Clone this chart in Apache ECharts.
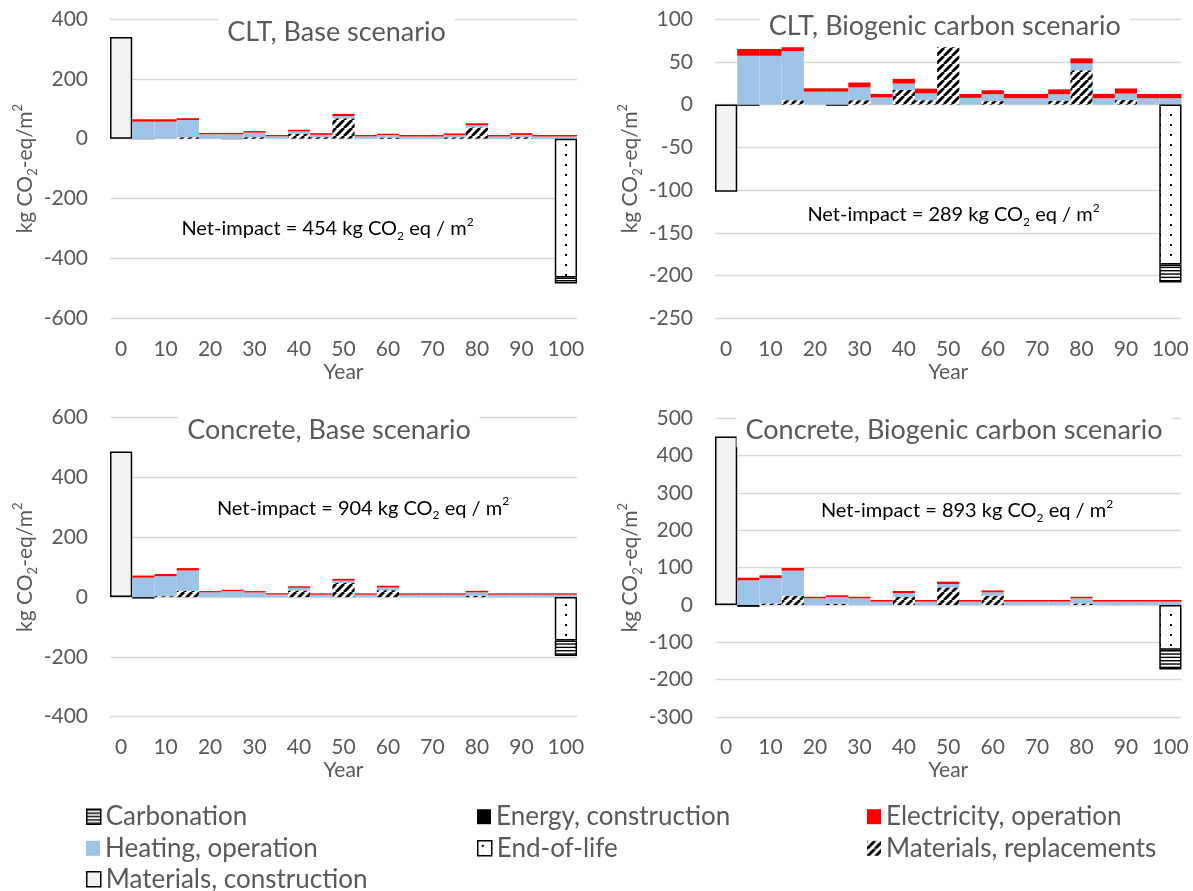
<!DOCTYPE html>
<html>
<head>
<meta charset="utf-8">
<script src="https://cdn.jsdelivr.net/npm/echarts@6/dist/echarts.min.js"></script>
<style>
html,body{margin:0;padding:0;background:#fff;}
#c{width:1193px;height:891px;}
</style>
</head>
<body>
<div id="c"></div>
<script>
// ---------------- DATA ----------------
const years = ['0','5','10','15','20','25','30','35','40','45','50','55','60','65','70','75','80','85','90','95','100'];

// CLT, Base scenario
const cltBaseMatCon    = [340,0,0,0,0,0,0,0,0,0,0,0,0,0,0,0,0,0,0,0,0];
const cltBaseEnergyCon = [0,-1.5,0,0,0,-1.5,0,0,0,0,0,0,0,0,0,0,0,0,0,0,0];
const cltBaseMatRepl   = [0,0,0,5,0,0,5,0,17,5,68,0,4,0,0,4.6,38,0,5,0,0];
const cltBaseHeating   = [0,57,57,57.5,15,15,15.5,8,7.5,8,8,7.8,8,7.4,7.4,7.4,7,7.4,7.6,7.4,7.4];
const cltBaseElec      = [0,8,8,6,4.5,4.5,5,4.5,5.5,5.5,7,4.6,4.7,5,5,5.5,6.5,5,6,5,5];
const cltBaseEol       = [0,0,0,0,0,0,0,0,0,0,0,0,0,0,0,0,0,0,0,0,-464];
const cltBaseCarb      = [0,0,0,0,0,0,0,0,0,0,0,0,0,0,0,0,0,0,0,0,-20];

// CLT, Biogenic carbon scenario
const cltBioMatCon    = [-102,0,0,0,0,0,0,0,0,0,0,0,0,0,0,0,0,0,0,0,0];
const cltBioEnergyCon = [0,-1.5,0,0,0,-1.5,0,0,0,0,0,0,0,0,0,0,0,0,0,0,0];
const cltBioMatRepl   = [0,0,0,5,0,0,5,0,17,5,67,0,4,0,0,4.6,40,0,5.2,0,0];
const cltBioHeating   = [0,57,57,57.5,15,15,15,8.2,7.5,8,0,7.8,8,7.4,7.4,7.4,8,7.4,7.6,7.4,7.4];
const cltBioElec      = [0,8,8,4.5,4,4,5.7,4.2,5.5,5.6,0,4.6,4.7,5,5,5.7,6,5,6,5,5];
const cltBioEol       = [0,0,0,0,0,0,0,0,0,0,0,0,0,0,0,0,0,0,0,0,-187];
const cltBioCarb      = [0,0,0,0,0,0,0,0,0,0,0,0,0,0,0,0,0,0,0,0,-21];

// Concrete, Base scenario
const concBaseMatCon    = [487,0,0,0,0,0,0,0,0,0,0,0,0,0,0,0,0,0,0,0,0];
const concBaseEnergyCon = [0,-5,0,0,0,0,0,0,0,0,0,0,0,0,0,0,0,0,0,0,0];
const concBaseMatRepl   = [0,0,3,21,0,0,0,0,22,0,47,0,23,0,0,0,4,0,0,0,0];
const concBaseHeating   = [0,65,67,68,16,20,15.5,8.5,9,8,8,8,9,8,8,8,12,8,8,8,8];
const concBaseElec      = [0,7,7,8,4,4.5,4.5,4.5,5,4.5,6,4.5,6,4.5,4.5,4.5,5,4.5,4.5,4.5,4.5];
const concBaseEol       = [0,0,0,0,0,0,0,0,0,0,0,0,0,0,0,0,0,0,0,0,-145];
const concBaseCarb      = [0,0,0,0,0,0,0,0,0,0,0,0,0,0,0,0,0,0,0,0,-52];

// Concrete, Biogenic carbon scenario
const concBioMatCon    = [451,0,0,0,0,0,0,0,0,0,0,0,0,0,0,0,0,0,0,0,0];
const concBioEnergyCon = [0,-5,0,0,0,0,0,0,0,0,0,0,0,0,0,0,0,0,0,0,0];
const concBioMatRepl   = [0,0,4,25,0,3,0,0,22,0,47,0,25,0,0,0,4,0,0,0,0];
const concBioHeating   = [0,66,68,67,18,18.5,18,9,10,9,9,9,9,9,9,9,14,9,9,9,9];
const concBioElec      = [0,7,7.5,7,4,4.5,4,4.4,5.5,4.4,6.5,4.4,5,4.4,4.4,4.4,4,4.4,4.4,4.4,4.4];
const concBioEol       = [0,0,0,0,0,0,0,0,0,0,0,0,0,0,0,0,0,0,0,0,-120];
const concBioCarb      = [0,0,0,0,0,0,0,0,0,0,0,0,0,0,0,0,0,0,0,0,-53];

const panelTitles = ['CLT, Base scenario','CLT, Biogenic carbon scenario','Concrete, Base scenario','Concrete, Biogenic carbon scenario'];
const netImpacts  = ['454','289','904','893'];
const yMins = [-600,-250,-400,-300];
const yMaxs = [400,100,600,500];
const yIntervals = [200,50,200,100];
const seriesNames = ['Materials, construction','Energy, construction','Materials, replacements','Heating, operation','Electricity, operation','End-of-life','Carbonation'];

// ---------------- STYLES ----------------
const FONT = 'Lato, "Open Sans", sans-serif';
const GREY = '#595959';

function makeHatch(){
  const c=document.createElement('canvas'); c.width=8; c.height=8;
  const g=c.getContext('2d');
  g.fillStyle='#fff'; g.fillRect(0,0,8,8);
  g.strokeStyle='#000'; g.lineWidth=2.9;
  g.beginPath();
  for(let k=-8;k<=16;k+=8){ g.moveTo(k,8); g.lineTo(k+8,0); }
  g.stroke();
  return {image:c, repeat:'repeat'};
}
function makeDots(){
  const c=document.createElement('canvas'); c.width=11; c.height=10;
  const g=c.getContext('2d');
  g.fillStyle='#fff'; g.fillRect(0,0,11,10);
  g.fillStyle='#000'; g.fillRect(4,4,2,2);
  return {image:c, repeat:'repeat'};
}
function makeLines(){
  const c=document.createElement('canvas'); c.width=4; c.height=10;
  const g=c.getContext('2d');
  g.fillStyle='#fff'; g.fillRect(0,0,4,10);
  g.fillStyle='#000';
  for(let i=0;i<3;i++){ g.fillRect(0,i*10/3,4,1.4); }
  return {image:c, repeat:'repeat'};
}
const hatch=makeHatch(), dots=makeDots(), lines=makeLines();

const styles = {
  'Materials, construction': {color:'#f2f2f2', borderColor:'#000', borderWidth:1.5},
  'Energy, construction':    {color:'#000000'},
  'Materials, replacements': {color:hatch},
  'Heating, operation':      {color:'#9dc3e6'},
  'Electricity, operation':  {color:'#ff0000'},
  'End-of-life':             {color:dots, borderColor:'#000', borderWidth:1.5},
  'Carbonation':             {color:lines, borderColor:'#000', borderWidth:1.5}
};

const panelData = [
  [cltBaseMatCon,cltBaseEnergyCon,cltBaseMatRepl,cltBaseHeating,cltBaseElec,cltBaseEol,cltBaseCarb],
  [cltBioMatCon,cltBioEnergyCon,cltBioMatRepl,cltBioHeating,cltBioElec,cltBioEol,cltBioCarb],
  [concBaseMatCon,concBaseEnergyCon,concBaseMatRepl,concBaseHeating,concBaseElec,concBaseEol,concBaseCarb],
  [concBioMatCon,concBioEnergyCon,concBioMatRepl,concBioHeating,concBioElec,concBioEol,concBioCarb]
];

// layout
const grids = [
  {left:110, top:19,    width:467,   height:299.3},
  {left:715, top:19,    width:466.5, height:299.3},
  {left:110, top:417.7, width:467,   height:299},
  {left:715, top:418.3, width:466.5, height:298.7}
];
const titlePos = [[336.5,32],[944.7,26.7],[329,430.3],[954,430.7]];
const netPos   = [[327.5,229],[953.5,215],[363,508.3],[967,510.7]];

const option = {
  animation:false,
  backgroundColor:'#fff',
  grid: grids.map(g=>Object.assign({outerBoundsMode:'none', containLabel:false}, g)),
  xAxis: grids.map((g,i)=>({
    type:'category', gridIndex:i, data:years,
    axisLine:{show:false, onZero:false}, axisTick:{show:false}, splitLine:{show:false},
    axisLabel:{interval:1, margin:20, fontSize:21, fontFamily:FONT, color:GREY},
    name:'Year', nameLocation:'middle', nameGap:43,
    nameTextStyle:{fontSize:21, fontFamily:FONT, color:GREY}
  })),
  yAxis: grids.map((g,i)=>({
    type:'value', gridIndex:i, min:yMins[i], max:yMaxs[i], interval:yIntervals[i],
    axisLine:{show:false}, axisTick:{show:false},
    splitLine:{show:true, lineStyle:{color:'#d9d9d9', width:1.3}},
    axisLabel:{margin:22, fontSize:21, fontFamily:FONT, color:GREY},
    name:'{t|kg CO}{s|2}{t|-eq/m}{p|2}',
    nameLocation:'middle', nameRotate:90, nameGap:71,
    nameTextStyle:{
      rich:{
        t:{fontSize:21, fontFamily:FONT, color:GREY, lineHeight:28},
        s:{fontSize:13, fontFamily:FONT, color:GREY, lineHeight:13, verticalAlign:'bottom'},
        p:{fontSize:13, fontFamily:FONT, color:GREY, lineHeight:13, verticalAlign:'top'}
      }
    }
  })),
  series: [],
  legend: [],
  graphic: {elements: []}
};

panelData.forEach((arrs,p)=>{
  arrs.forEach((arr,k)=>{
    const name = seriesNames[k];
    option.series.push({
      type:'bar', name:name, xAxisIndex:p, yAxisIndex:p, stack:'s'+p,
      barCategoryGap:'0%', barGap:'0%',
      data: arr.map(v=> v===0 ? null : v),
      itemStyle: Object.assign({}, styles[name]),
      emphasis:{disabled:true}
    });
  });
  option.graphic.elements.push({
    type:'text', z:100, x:titlePos[p][0], y:titlePos[p][1],
    style:{text:panelTitles[p], fill:GREY, font:'27px '+FONT,
      align:'center', verticalAlign:'middle', textAlign:'center', textVerticalAlign:'middle',
      backgroundColor:'#fff', padding:[3,9]}
  });
  option.graphic.elements.push({
    type:'text', z:100, x:netPos[p][0], y:netPos[p][1],
    style:{
      text:'{a|Net-impact = '+netImpacts[p]+' kg CO}{b|2}{a| eq / m}{c|2}',
      align:'center', verticalAlign:'middle', textAlign:'center', textVerticalAlign:'middle',
      rich:{
        a:{fontSize:20, fontFamily:FONT, fill:'#000', color:'#000', lineHeight:26},
        b:{fontSize:12, fontFamily:FONT, fill:'#000', color:'#000', lineHeight:12, verticalAlign:'bottom'},
        c:{fontSize:12, fontFamily:FONT, fill:'#000', color:'#000', lineHeight:12, verticalAlign:'top'}
      }
    }
  });
});

const legendLayout = [
  ['Carbonation', 86, 816.7],
  ['Energy, construction', 477, 816.7],
  ['Electricity, operation', 867, 816.7],
  ['Heating, operation', 86, 848.3],
  ['End-of-life', 477, 848.3],
  ['Materials, replacements', 867, 848.3],
  ['Materials, construction', 86, 879.3]
];
legendLayout.forEach(([name,x,y])=>{
  const st = styles[name];
  option.legend.push({
    show:true, left:x, top:y-13, padding:0, orient:'horizontal',
    itemWidth:14, itemHeight:15, icon:'rect', selectedMode:false,
    textStyle:{fontSize:26, fontFamily:FONT, color:GREY},
    data:[{name:name, icon:'rect', itemStyle:{color:st.color, borderColor:st.borderColor||'transparent', borderWidth:st.borderWidth||0}}]
  });
});

const chart = echarts.init(document.getElementById('c'), null, {renderer:'canvas'});
chart.setOption(option);
</script>
</body>
</html>
